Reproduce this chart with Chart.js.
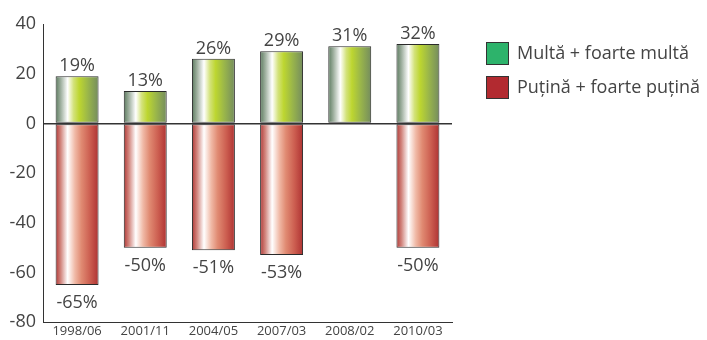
<!DOCTYPE html>
<html>
<head>
<meta charset="utf-8">
<script src="https://cdn.jsdelivr.net/npm/chart.js@4.4.1/dist/chart.umd.min.js"></script>
<style>
  html, body { margin: 0; padding: 0; background: #fff; }
  #wrap { width: 707px; height: 340px; position: relative; }
</style>
</head>
<body>
<div id="wrap"><canvas id="chart"></canvas></div>
<script>
const periods = ['1998/06', '2001/11', '2004/05', '2007/03', '2008/02', '2010/03'];
const multa = [19, 13, 26, 29, 31, 32];
const putina = [-65, -50, -51, -53, null, -50];
const yTicks = [-80, -60, -40, -20, 0, 20, 40];

const BAR_PCT = 0.63;
const FONT = "'Open Sans', 'Noto Sans', sans-serif";
const TEXT = '#444';

// cylinder-like shading across each bar
function shade(stops, solid) {
  return function (c) {
    const chart = c.chart;
    const x = chart.scales && chart.scales.x;
    if (!x || !chart.chartArea || c.dataIndex === undefined) return solid;
    const w = (x.width / periods.length) * BAR_PCT;
    const cx = x.getPixelForValue(c.dataIndex);
    const g = chart.ctx.createLinearGradient(cx - w / 2, 0, cx + w / 2, 0);
    stops.forEach(s => g.addColorStop(s[0], s[1]));
    return g;
  };
}

const greenStops = [[0, '#5b7a5e'], [0.12, '#9fb09f'], [0.28, '#ffffff'], [0.42, '#d3e27a'], [0.55, '#bdd630'], [0.75, '#9ab64a'], [1, '#748c5e']];
const redStops = [[0, '#b03836'], [0.12, '#d2867e'], [0.28, '#ffffff'], [0.45, '#f0b9a6'], [0.6, '#e08a72'], [0.8, '#cc5e50'], [1, '#ae3232']];
const legendFills = ['#2db36b', '#b22a30'];

// percentages above / below each bar
const valueLabels = {
  id: 'valueLabels',
  afterDatasetsDraw(chart) {
    const ctx = chart.ctx;
    ctx.save();
    ctx.font = '18px ' + FONT;
    ctx.fillStyle = TEXT;
    ctx.textAlign = 'center';
    ctx.textBaseline = 'alphabetic';
    chart.data.datasets.forEach((ds, di) => {
      chart.getDatasetMeta(di).data.forEach((el, i) => {
        const v = ds.data[i];
        if (v === null || v === undefined) return;
        ctx.fillText(v + '%', el.x, v >= 0 ? el.y - 5 : el.y + 23);
      });
    });
    ctx.restore();
  }
};

// legend to the right of the plot
const sideLegend = {
  id: 'sideLegend',
  afterDraw(chart) {
    const ctx = chart.ctx;
    const left = chart.chartArea.right + 34;
    ctx.save();
    ctx.font = '18px ' + FONT;
    ctx.textBaseline = 'middle';
    ctx.textAlign = 'left';
    chart.data.datasets.forEach((ds, i) => {
      const top = 42 + i * 34;
      ctx.fillStyle = legendFills[i];
      ctx.fillRect(left, top, 23, 23);
      ctx.strokeStyle = '#333';
      ctx.lineWidth = 1;
      ctx.strokeRect(left + 0.5, top + 0.5, 22, 22);
      ctx.fillStyle = TEXT;
      ctx.fillText(ds.label, left + 31, top + 12);
    });
    ctx.restore();
  }
};

new Chart(document.getElementById('chart'), {
  type: 'bar',
  data: {
    labels: periods,
    datasets: [
      {
        label: 'Multă + foarte multă',
        data: multa,
        backgroundColor: shade(greenStops, legendFills[0]),
        borderColor: '#2a2a2a',
        borderWidth: 1,
        borderSkipped: false
      },
      {
        label: 'Puțină + foarte puțină',
        data: putina,
        backgroundColor: shade(redStops, legendFills[1]),
        borderColor: '#2a2a2a',
        borderWidth: 1,
        borderSkipped: false
      }
    ]
  },
  options: {
    responsive: true,
    maintainAspectRatio: false,
    animation: false,
    layout: { padding: { top: 24, right: 255, bottom: 0, left: 0 } },
    datasets: { bar: { categoryPercentage: 1, barPercentage: BAR_PCT } },
    plugins: {
      tooltip: { enabled: false },
      legend: { display: false }
    },
    scales: {
      x: {
        stacked: true,
        afterFit(axis) { axis.height = 16; },
        grid: { display: false, drawTicks: false },
        border: { display: true, color: '#333', width: 1 },
        ticks: { color: TEXT, font: { family: FONT, size: 13 }, padding: 1 }
      },
      y: {
        stacked: true,
        min: -80,
        max: 40,
        afterFit(axis) { axis.width = 43; },
        afterBuildTicks(axis) { axis.ticks = yTicks.map(v => ({ value: v })); },
        grid: {
          drawTicks: false,
          color: c => (c.tick && c.tick.value === 0 ? '#333' : 'rgba(0,0,0,0)'),
          lineWidth: c => (c.tick && c.tick.value === 0 ? 1.5 : 0)
        },
        border: { display: true, color: '#333', width: 1 },
        ticks: { color: TEXT, font: { family: FONT, size: 18 }, padding: 7 }
      }
    }
  },
  plugins: [valueLabels, sideLegend]
});
</script>
</body>
</html>
